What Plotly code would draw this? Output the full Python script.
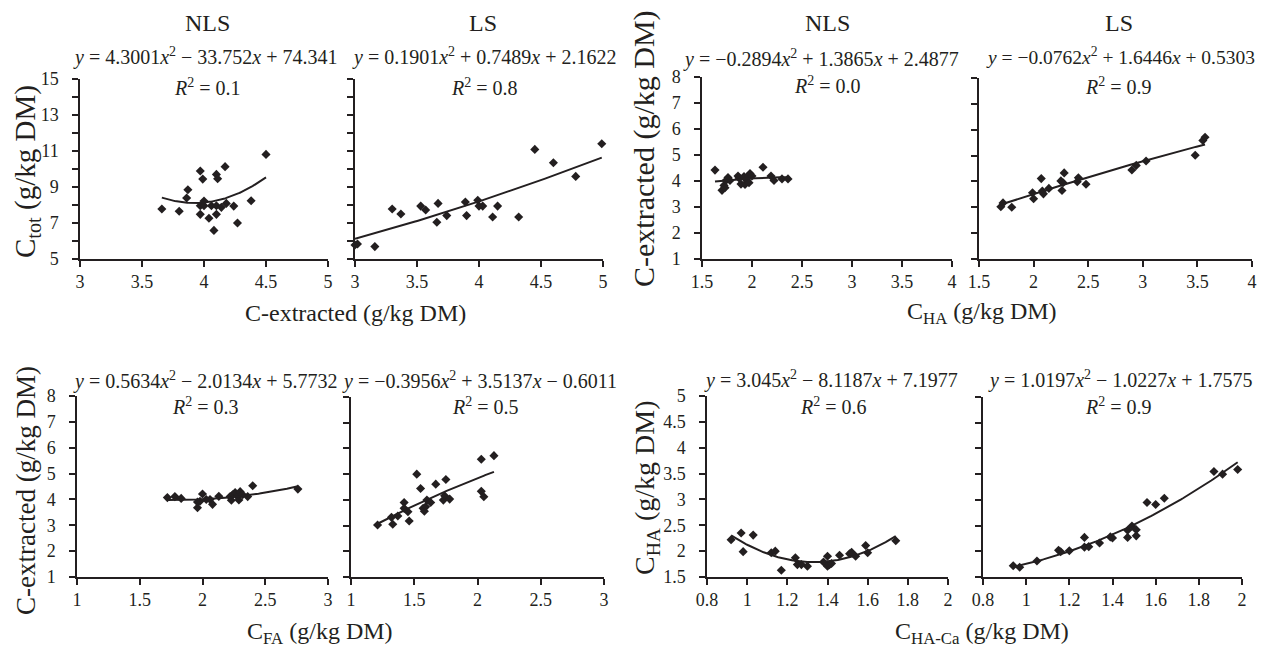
import numpy as np
import plotly.graph_objects as go

# window is 1267x657; the browser's default 8px body margin surrounds the figure
WIN_W, WIN_H = 1267, 657
OFF = 8
W, H = WIN_W - 2 * OFF, WIN_H - 2 * OFF
FONT = "Liberation Serif"
INK = "#231f20"

# ---------------- data ----------------
# Row 1, left pair: C-extracted (x) vs C_tot (y)
nls_cext_x = [3.66, 3.80, 3.86, 3.87, 3.97, 3.99, 3.97, 3.97, 4.00, 4.00, 4.06, 4.04, 4.08, 4.10, 4.11, 4.10, 4.10, 4.14, 4.17, 4.18, 4.24, 4.27, 4.38, 4.50]
nls_ctot_y = [7.78, 7.65, 8.39, 8.85, 9.89, 9.44, 7.96, 7.48, 8.22, 7.96, 7.96, 7.26, 6.59, 9.70, 9.46, 7.96, 7.48, 7.87, 10.13, 8.09, 7.94, 7.00, 8.24, 10.81]
ls_cext_x = [3.00, 3.02, 3.16, 3.30, 3.37, 3.53, 3.57, 3.67, 3.66, 3.74, 3.89, 3.90, 3.99, 4.00, 4.03, 4.15, 4.11, 4.32, 4.45, 4.60, 4.78, 4.99]
ls_ctot_y = [5.78, 5.83, 5.69, 7.78, 7.50, 7.94, 7.72, 8.09, 7.04, 7.41, 8.17, 7.41, 8.26, 7.94, 7.94, 7.94, 7.33, 7.33, 11.09, 10.35, 9.59, 11.40]

# Row 1, right pair: C_HA (x) vs C-extracted (y)
nls_cha_x = [1.63, 1.70, 1.72, 1.73, 1.74, 1.76, 1.78, 1.86, 1.87, 1.89, 1.92, 1.93, 1.95, 1.95, 1.97, 1.98, 2.00, 2.11, 2.19, 2.22, 2.30, 2.36]
nls_cext_y = [4.42, 3.64, 3.83, 3.74, 4.02, 4.13, 4.02, 4.19, 4.12, 3.88, 4.17, 3.87, 4.02, 4.12, 3.93, 4.29, 4.19, 4.53, 4.19, 4.02, 4.08, 4.08]
ls_cha_x = [1.70, 1.72, 1.80, 1.99, 2.00, 2.07, 2.08, 2.09, 2.14, 2.25, 2.26, 2.27, 2.28, 2.40, 2.41, 2.48, 2.90, 2.94, 3.03, 3.48, 3.55, 3.57]
ls_cext_y = [3.02, 3.17, 3.00, 3.56, 3.33, 4.11, 3.63, 3.52, 3.73, 4.02, 3.65, 3.95, 4.33, 3.99, 4.14, 3.89, 4.44, 4.62, 4.79, 5.01, 5.58, 5.71]

# Row 2, left pair: C_FA (x) vs C-extracted (y)
nls_cfa_x = [1.72, 1.78, 1.83, 1.96, 1.96, 1.98, 2.00, 2.03, 2.06, 2.08, 2.13, 2.22, 2.23, 2.24, 2.26, 2.28, 2.29, 2.30, 2.32, 2.36, 2.40, 2.76]
nls_cext2_y = [4.07, 4.11, 4.04, 3.90, 3.68, 3.93, 4.21, 4.00, 4.00, 3.81, 4.12, 4.11, 3.97, 4.18, 4.27, 4.11, 3.98, 4.30, 4.18, 4.11, 4.53, 4.40]
ls_cfa_x = [1.21, 1.32, 1.33, 1.37, 1.42, 1.42, 1.45, 1.46, 1.52, 1.55, 1.57, 1.58, 1.59, 1.60, 1.63, 1.67, 1.73, 1.74, 1.75, 1.78, 2.03, 2.03, 2.05, 2.13]
ls_cext2_y = [3.02, 3.32, 3.05, 3.37, 3.90, 3.67, 3.54, 3.18, 5.00, 4.44, 3.67, 3.56, 3.73, 3.99, 3.90, 4.61, 3.99, 4.16, 4.79, 4.03, 5.58, 4.33, 4.12, 5.72]

# Row 2, right pair: C_HA-Ca (x) vs C_HA (y)
nls_chaca_x = [0.92, 0.97, 0.98, 1.03, 1.12, 1.14, 1.17, 1.24, 1.25, 1.27, 1.30, 1.38, 1.40, 1.40, 1.41, 1.42, 1.46, 1.51, 1.52, 1.54, 1.59, 1.60, 1.74]
nls_cha_y = [2.22, 2.35, 1.99, 2.31, 1.97, 2.00, 1.63, 1.87, 1.74, 1.74, 1.71, 1.79, 1.90, 1.71, 1.74, 1.76, 1.92, 1.95, 1.98, 1.90, 2.11, 1.97, 2.20]
ls_chaca_x = [0.94, 0.97, 1.05, 1.15, 1.16, 1.20, 1.27, 1.27, 1.29, 1.34, 1.39, 1.40, 1.47, 1.47, 1.49, 1.51, 1.51, 1.56, 1.60, 1.64, 1.87, 1.91, 1.98]
ls_cha_y = [1.72, 1.69, 1.81, 2.02, 1.99, 2.01, 2.27, 2.08, 2.09, 2.16, 2.28, 2.26, 2.41, 2.27, 2.49, 2.42, 2.30, 2.95, 2.91, 3.03, 3.55, 3.50, 3.59]

# quadratic trendline coefficients (as printed on the chart)
coef1 = [4.3001, -33.752, 74.341]
coef2 = [0.1901, 0.7489, 2.1622]
coef3 = [-0.2894, 1.3865, 2.4877]
coef4 = [-0.0762, 1.6446, 0.5303]
coef5 = [0.5634, -2.0134, 5.7732]
coef6 = [-0.3956, 3.5137, -0.6011]
coef7 = [3.045, -8.1187, 7.1977]
coef8 = [1.0197, -1.0227, 1.7575]

eq_texts = [
    "<i>y</i> = 4.3001<i>x</i><sup>2</sup> \u2212 33.752<i>x</i> + 74.341",
    "<i>y</i> = 0.1901<i>x</i><sup>2</sup> + 0.7489<i>x</i> + 2.1622",
    "<i>y</i> = \u22120.2894<i>x</i><sup>2</sup> + 1.3865<i>x</i> + 2.4877",
    "<i>y</i> = \u22120.0762<i>x</i><sup>2</sup> + 1.6446<i>x</i> + 0.5303",
    "<i>y</i> = 0.5634<i>x</i><sup>2</sup> \u2212 2.0134<i>x</i> + 5.7732",
    "<i>y</i> = \u22120.3956<i>x</i><sup>2</sup> + 3.5137<i>x</i> \u2212 0.6011",
    "<i>y</i> = 3.045<i>x</i><sup>2</sup> \u2212 8.1187<i>x</i> + 7.1977",
    "<i>y</i> = 1.0197<i>x</i><sup>2</sup> \u2212 1.0227<i>x</i> + 1.7575",
]
r2_values = ["0.1", "0.8", "0.0", "0.9", "0.3", "0.5", "0.6", "0.9"]
group_titles = ["NLS", "LS", "NLS", "LS"]

# tick values / labels
ctot_ticks = [5, 7, 9, 11, 13, 15]
ctot_labels = ["5", "7", "9", "11", "13", "15"]
ctot_minor = [6, 8, 10, 12, 14]
cext_x_ticks = [3, 3.5, 4, 4.5, 5]
cext_x_labels = ["3", "3.5", "4", "4.5", "5"]
cext_y_ticks = [1, 2, 3, 4, 5, 6, 7, 8]
cext_y_labels = ["1", "2", "3", "4", "5", "6", "7", "8"]
cha_x_ticks = [1.5, 2, 2.5, 3, 3.5, 4]
cha_x_labels = ["1.5", "2", "2.5", "3", "3.5", "4"]
cfa_x_ticks = [1, 1.5, 2, 2.5, 3]
cfa_x_labels = ["1", "1.5", "2", "2.5", "3"]
cha_y_ticks = [1.5, 2, 2.5, 3, 3.5, 4, 4.5, 5]
cha_y_labels = ["1.5", "2", "2.5", "3", "3.5", "4", "4.5", "5"]
chaca_x_ticks = [0.8, 1, 1.2, 1.4, 1.6, 1.8, 2]
chaca_x_labels = ["0.8", "1", "1.2", "1.4", "1.6", "1.8", "2"]

# ---------------- layout helpers (window pixels -> paper) ----------------
def px_x(p):
    return (p - OFF) / W

def px_y(p):
    return 1 - (p - OFF) / H

panels = [
    dict(x=nls_cext_x, y=nls_ctot_y, c=coef1, xd=(80, 328), yd=(79, 259), xt=(cext_x_ticks, cext_x_labels), yt=(ctot_ticks, ctot_labels), ym=ctot_minor, ylab=True),
    dict(x=ls_cext_x, y=ls_ctot_y, c=coef2, xd=(355, 603), yd=(79, 259), xt=(cext_x_ticks, cext_x_labels), yt=(ctot_ticks, ctot_labels), ym=ctot_minor, ylab=False),
    dict(x=nls_cha_x, y=nls_cext_y, c=coef3, xd=(702, 952), yd=(77, 259), xt=(cha_x_ticks, cha_x_labels), yt=(cext_y_ticks, cext_y_labels), ym=None, ylab=True),
    dict(x=ls_cha_x, y=ls_cext_y, c=coef4, xd=(979, 1252), yd=(78, 259), xt=(cha_x_ticks, cha_x_labels), yt=(cext_y_ticks, cext_y_labels), ym=None, ylab=False),
    dict(x=nls_cfa_x, y=nls_cext2_y, c=coef5, xd=(77, 328), yd=(396, 577), xt=(cfa_x_ticks, cfa_x_labels), yt=(cext_y_ticks, cext_y_labels), ym=None, ylab=True),
    dict(x=ls_cfa_x, y=ls_cext2_y, c=coef6, xd=(351, 604), yd=(397, 577), xt=(cfa_x_ticks, cfa_x_labels), yt=(cext_y_ticks, cext_y_labels), ym=None, ylab=False),
    dict(x=nls_chaca_x, y=nls_cha_y, c=coef7, xd=(707, 948), yd=(396, 577), xt=(chaca_x_ticks, chaca_x_labels), yt=(cha_y_ticks, cha_y_labels), ym=None, ylab=True),
    dict(x=ls_chaca_x, y=ls_cha_y, c=coef8, xd=(983, 1242), yd=(397, 577), xt=(chaca_x_ticks, chaca_x_labels), yt=(cha_y_ticks, cha_y_labels), ym=None, ylab=False),
]

fig = go.Figure()
layout = {}
for i, p in enumerate(panels):
    n = i + 1
    sx = "" if n == 1 else str(n)
    xa, ya = "x" + sx, "y" + sx
    fig.add_trace(go.Scatter(
        x=p["x"], y=p["y"], mode="markers", xaxis=xa, yaxis=ya,
        marker=dict(symbol="diamond", size=7, color=INK, line=dict(width=0)),
        cliponaxis=False, showlegend=False, hoverinfo="x+y"))
    xs = np.linspace(min(p["x"]), max(p["x"]), 120)
    fig.add_trace(go.Scatter(
        x=xs, y=np.polyval(p["c"], xs), mode="lines", xaxis=xa, yaxis=ya,
        line=dict(color=INK, width=2), cliponaxis=False, showlegend=False, hoverinfo="skip"))
    common = dict(showline=True, linecolor=INK, linewidth=1.5, ticks="outside", ticklen=6,
                  tickwidth=1.5, tickcolor=INK, showgrid=False, zeroline=False,
                  automargin=False, tickfont=dict(family=FONT, size=18, color=INK))
    xt, xl = p["xt"]
    yt, yl = p["yt"]
    layout["xaxis" + sx] = dict(common, domain=[px_x(p["xd"][0]), px_x(p["xd"][1])],
                                 anchor=ya, range=[xt[0], xt[-1]], tickmode="array",
                                 tickvals=xt, ticktext=xl, ticklabelstandoff=0)
    yax = dict(common, domain=[px_y(p["yd"][1]), px_y(p["yd"][0])],
               anchor=xa, range=[yt[0], yt[-1]], tickmode="array",
               tickvals=yt, ticktext=yl, showticklabels=p["ylab"],
               ticklabelstandoff=10)
    if p["ym"] is not None:
        yax["minor"] = dict(tickmode="array", tickvals=p["ym"], ticks="outside",
                            ticklen=6, tickwidth=1.5, tickcolor=INK, showgrid=False)
    layout["yaxis" + sx] = yax

annotations = []
def ann(text, x, y, size, angle=0):
    annotations.append(dict(text=text, x=px_x(x), y=px_y(y), xref="paper", yref="paper",
                            xanchor="center", yanchor="middle", showarrow=False,
                            textangle=angle, font=dict(family=FONT, size=size, color=INK)))

# group titles
for t, x in zip(group_titles, [207, 483, 827, 1119]):
    ann(t, x, 23, 24)

# equations and R²
eq_pos = [(205, 56), (484, 56), (821, 58), (1120, 56), (205, 380), (479, 380), (831, 379), (1120, 379)]
r2_pos = [(208, 87), (484, 87), (827, 85), (1118, 86), (206, 406), (485, 406), (833, 406), (1118, 406)]
for t, (x, y) in zip(eq_texts, eq_pos):
    ann(t, x, y, 20 if t != eq_texts[3] else 19.5)
for r, (x, y) in zip(r2_values, r2_pos):
    ann("<i>R</i><sup>2</sup> = " + r, x, y, 20)

# axis titles
ann("C-extracted (g/kg DM)", 355, 313, 24)
ann("C<sub>HA</sub> (g/kg DM)", 982, 313, 24)
ann("C<sub>FA</sub> (g/kg DM)", 320, 633, 24)
ann("C<sub>HA-Ca</sub> (g/kg DM)", 982, 633, 24)
ann("C<sub>tot</sub> (g/kg DM)", 27, 172, 29, -90)
ann("C-extracted (g/kg DM)", 644, 148, 30, -90)
ann("C-extracted (g/kg DM)", 26, 491, 27, -90)
ann("C<sub>HA</sub> (g/kg DM)", 646, 488, 28, -90)

fig.update_layout(**layout)
fig.update_layout(width=W, height=H, margin=dict(l=0, r=0, t=0, b=0),
                  paper_bgcolor="white", plot_bgcolor="white",
                  annotations=annotations, font=dict(family=FONT, color=INK))

fig.write_html("out.html", config={"displayModeBar": False})
